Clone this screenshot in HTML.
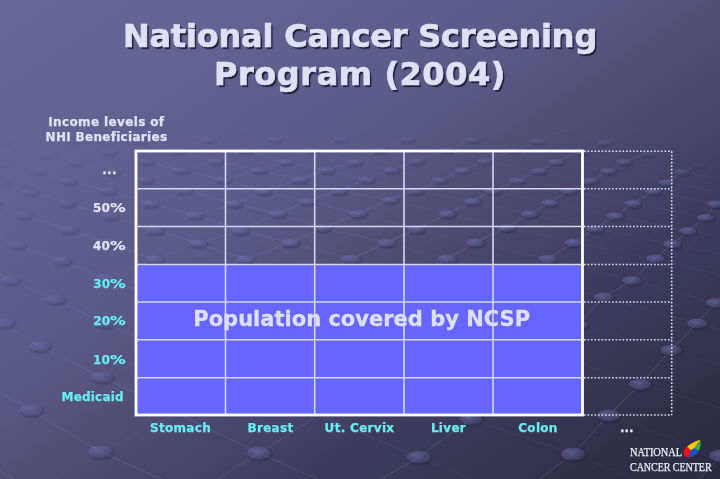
<!DOCTYPE html>
<html>
<head>
<meta charset="utf-8">
<style>
html,body{margin:0;padding:0;}
body{width:720px;height:479px;overflow:hidden;position:relative;
  font-family:"DejaVu Sans","Liberation Sans",sans-serif;font-weight:bold;
  background:#4a4a74;}
#bg{position:absolute;left:0;top:0;width:720px;height:479px;}
.t{position:absolute;white-space:nowrap;line-height:1;}
.title{left:0;width:720px;text-align:center;font-size:32px;color:#e0e0f5;
  -webkit-text-stroke:0.7px #e0e0f5;text-shadow:1.8px 1.8px 0.9px #1e1e36;}
.lab{font-size:12px;color:#e2e2f5;-webkit-text-stroke:0.25px currentColor;}
.cy{color:#68ecf0;}
.col{font-size:12px;color:#68ecf0;text-align:center;width:90px;letter-spacing:0.3px;-webkit-text-stroke:0.25px currentColor;}
.rl{left:0;text-align:right;}
.pc{display:inline-block;transform:scaleX(1.3);transform-origin:0 0;margin-right:3.6px;}
.rl{letter-spacing:0.3px;}
.logo{font-family:"Liberation Serif","DejaVu Serif",serif;font-weight:normal;font-size:13px;color:#f2f2f6;transform:scaleX(0.75);transform-origin:0 0;letter-spacing:-0.1px;-webkit-text-stroke:0.25px #f2f2f6;}
</style>
</head>
<body>
<svg id="bg" width="720" height="479" viewBox="0 0 720 479">
  <defs>
    <linearGradient id="g1" x1="0" y1="0" x2="1" y2="1">
      <stop offset="0" stop-color="#686696"/>
      <stop offset="0.14" stop-color="#666494"/>
      <stop offset="0.26" stop-color="#605e8e"/>
      <stop offset="0.38" stop-color="#5c5a89"/>
      <stop offset="0.5" stop-color="#535078"/>
      <stop offset="0.6" stop-color="#48466c"/>
      <stop offset="0.725" stop-color="#3c3b5c"/>
      <stop offset="0.85" stop-color="#34344f"/>
      <stop offset="0.89" stop-color="#2f2f48"/>
      <stop offset="1" stop-color="#2a2a42"/>
    </linearGradient>
    <radialGradient id="dg" cx="0.4" cy="0.35" r="0.65">
      <stop offset="0" stop-color="#7c7cc4" stop-opacity="0.55"/>
      <stop offset="1" stop-color="#7c7cc4" stop-opacity="0.2"/>
    </radialGradient>
    <filter id="bl" x="-50%" y="-50%" width="200%" height="200%"><feGaussianBlur stdDeviation="1"/></filter>
    <filter id="bl2" x="-50%" y="-50%" width="200%" height="200%"><feGaussianBlur stdDeviation="0.6"/></filter>
    <linearGradient id="fade" x1="0" y1="0" x2="0" y2="1">
      <stop offset="0.24" stop-color="#fff" stop-opacity="0"/>
      <stop offset="0.325" stop-color="#fff" stop-opacity="0.7"/>
      <stop offset="0.42" stop-color="#fff" stop-opacity="1"/>
    </linearGradient>
    <linearGradient id="gB" x1="0" y1="0" x2="1" y2="0">
      <stop offset="0.1" stop-color="#fff" stop-opacity="0.15"/>
      <stop offset="0.45" stop-color="#fff" stop-opacity="1"/>
    </linearGradient>
    <linearGradient id="gC" x1="0" y1="0" x2="1" y2="0">
      <stop offset="0.3" stop-color="#fff" stop-opacity="1"/>
      <stop offset="0.6" stop-color="#fff" stop-opacity="0.3"/>
    </linearGradient>
    <mask id="mB" maskUnits="userSpaceOnUse" x="0" y="0" width="720" height="479"><rect width="720" height="479" fill="url(#gB)"/></mask>
    <mask id="mC" maskUnits="userSpaceOnUse" x="0" y="0" width="720" height="479"><rect width="720" height="479" fill="url(#gC)"/></mask>
    <filter id="mb" x="-20%" y="-20%" width="140%" height="140%"><feGaussianBlur stdDeviation="6"/></filter>
    <linearGradient id="fdg" gradientUnits="userSpaceOnUse" x1="0" y1="120" x2="300" y2="330">
      <stop offset="0" stop-color="#fff" stop-opacity="0.1"/>
      <stop offset="0.2" stop-color="#fff" stop-opacity="0.45"/>
      <stop offset="0.45" stop-color="#fff" stop-opacity="0.8"/>
      <stop offset="0.7" stop-color="#fff" stop-opacity="1"/>
    </linearGradient>
    <mask id="fd" maskUnits="userSpaceOnUse" x="0" y="0" width="720" height="479"><rect width="720" height="479" fill="url(#fdg)"/></mask>
    <mask id="fm" maskUnits="userSpaceOnUse" x="0" y="0" width="720" height="479"><rect width="720" height="479" fill="url(#fade)"/><polygon points="640,90 740,90 740,172 700,168 660,166 640,150" fill="#000" filter="url(#mb)"/></mask>
  </defs>
  <rect width="720" height="479" fill="url(#g1)"/>
  <g mask="url(#fm)"><g mask="url(#fd)">
<g fill="none" stroke="#8888d0" stroke-opacity="0.28" stroke-width="1">
<path mask="url(#mB)" d="M-127.0 105.8 L-154.0 120.6 L-183.3 133.8 M-52.1 104.6 L-79.7 119.3 L-109.1 132.6 L-140.9 144.7 L-175.7 155.8 M20.8 103.4 L-7.3 118.1 L-36.8 131.4 L-68.2 143.5 L-102.2 154.7 L-139.5 165.2 L-180.4 175.3 M91.8 102.5 L63.3 117.1 L33.8 130.3 L2.7 142.4 L-30.4 153.6 L-66.3 164.2 L-105.6 174.4 L-148.7 184.6 L-196.4 194.8 M161.3 101.7 L132.3 116.2 L102.8 129.3 L72.2 141.4 L48.0 155.0 L5.4 163.2 L-32.1 173.6 L-73.0 183.8 L-118.1 194.2 L-167.8 205.1 M229.4 101.2 L200.0 115.5 L170.6 128.5 L140.5 140.5 L109.2 151.7 L76.0 162.3 L38.0 171.0 L1.6 183.0 L-40.7 193.6 L-87.3 204.6 L-138.7 216.4 L-195.6 229.1 M296.4 101.1 L266.7 115.1 L237.4 128.0 L207.8 139.8 L177.4 150.9 L145.6 161.5 L111.8 171.8 L69.0 181.0 L30.0 192.0 L-7.6 204.1 L-55.4 216.0 L-108.2 229.0 L-166.5 243.3 M362.6 101.3 L332.6 115.1 L303.4 127.7 L274.4 139.3 L245.0 150.3 L215.3 160.9 L181.0 170.2 L145.3 179.6 L108.0 190.6 L67.0 203.0 L23.0 215.0 L-21.2 228.8 L-75.1 243.3 L-134.6 259.4 M428.2 101.9 L397.9 115.4 L368.8 127.7 L340.4 139.1 L312.1 149.9 L285.3 161.8 L259.0 170.2 L223.0 179.6 L184.0 190.4 L150.0 203.5 L110.0 216.0 L69.0 229.7 L16.7 245.0 L-38.3 259.5 L-98.7 277.7 L-165.7 298.1 M493.4 103.0 L462.9 116.1 L434.0 128.1 L406.2 139.3 L379.0 149.8 L353.8 162.4 L325.8 170.2 L299.3 179.6 L263.1 191.1 L234.0 203.5 L195.0 215.3 L154.7 230.3 L107.6 243.0 L61.9 260.7 L10.7 280.0 L-57.8 298.6 L-125.5 321.7 M558.5 104.6 L527.7 117.3 L499.1 129.0 L472.0 139.8 L445.9 150.1 L416.0 160.9 L391.0 170.2 L366.2 179.6 L338.9 190.8 L307.0 201.3 L277.6 213.8 L240.0 230.3 L198.0 243.3 L154.7 259.5 L105.5 278.1 L55.2 299.5 L4.0 323.0 L-78.8 348.4 L-154.3 377.5 M623.7 106.7 L592.8 119.0 L564.4 130.3 L538.0 140.8 L513.0 150.8 L484.5 160.9 L462.7 170.2 L439.3 180.2 L415.1 190.7 L389.6 199.8 L357.7 213.8 L322.7 227.8 L290.0 242.7 L245.0 259.5 L208.4 278.3 L159.4 299.3 L104.6 322.9 L39.5 346.4 L-24.6 378.7 L-100.3 411.4 L-184.1 447.6 M689.3 109.5 L658.2 121.3 L630.1 132.1 L604.5 142.2 L580.7 151.8 L556.0 161.8 L538.9 170.8 L517.0 180.5 L491.9 190.8 L472.0 201.3 L447.0 213.8 L416.0 229.3 L386.4 242.7 L350.7 258.9 L312.3 278.4 L269.3 299.6 L221.0 323.4 L166.7 350.0 L102.0 377.0 L31.0 410.0 L-37.4 449.3 L-121.2 489.8 M755.4 112.9 L724.2 124.2 L696.5 134.5 L671.7 144.2 L649.1 153.4 L623.5 161.7 L608.4 170.8 L590.0 180.8 L568.5 190.4 L549.8 202.9 L529.6 213.8 L506.2 227.8 L475.0 242.7 L447.0 258.9 L417.2 278.5 L380.3 299.9 L338.5 323.8 L291.2 350.7 L237.9 380.6 L177.9 413.9 L100.0 451.7 L35.5 491.7 L-48.1 536.6 M822.4 117.0 L791.2 127.7 L763.8 137.5 L739.8 146.7 L718.5 155.5 L699.3 164.2 L682.0 171.8 L666.3 182.5 L652.9 191.2 L632.8 203.5 L615.0 216.0 L595.0 228.6 L573.0 242.7 L548.0 258.9 L523.5 278.8 L492.7 300.2 L457.5 324.3 L417.2 351.3 L371.3 381.4 L319.2 415.0 L259.0 453.0 L193.9 493.4 L119.5 538.7 M890.5 121.9 L859.2 131.9 L832.3 141.2 L809.1 149.8 L789.1 158.2 L771.7 166.4 L756.2 174.9 L742.1 183.8 L728.7 193.3 L715.5 204.0 L705.4 217.6 L687.7 231.0 L672.0 244.3 L655.3 258.7 L631.8 280.5 L603.4 297.0 L578.1 324.8 L544.9 351.9 L506.4 382.2 L470.8 418.8 L418.8 457.0 L354.1 494.9 L289.0 540.6 M902.1 145.6 L879.9 153.7 L861.2 161.5 L845.5 169.3 L832.3 177.3 L820.8 185.8 L810.5 195.0 L800.9 205.2 L791.3 216.6 L781.1 229.6 L769.7 244.2 L756.6 260.9 L741.1 279.8 L715.5 302.7 L697.0 323.4 L671.0 350.0 L640.2 384.3 L608.4 415.4 L572.9 454.0 L516.4 496.3 L460.6 542.3 M910.1 180.3 L901.4 188.3 L894.2 197.2 L888.2 207.0 L882.6 218.2 L876.9 230.9 L870.4 245.3 L862.6 261.8 L852.9 280.6 L840.7 302.0 L825.3 326.1 L806.3 353.3 L782.9 383.9 L754.7 417.9 L720.9 455.8 L681.1 497.7 L634.5 544.0 M904.5 419.0 L879.2 457.0 L848.3 499.1 L811.1 545.5"/>
<path mask="url(#mC)" d="M755.4 112.9 L791.2 127.7 L832.3 141.2 L879.9 153.7 M689.3 109.5 L724.2 124.2 L763.8 137.5 L809.1 149.8 L861.2 161.5 M623.7 106.7 L658.2 121.3 L696.5 134.5 L739.8 146.7 L789.1 158.2 L845.5 169.3 L910.1 180.3 M558.5 104.6 L592.8 119.0 L630.1 132.1 L671.7 144.2 L718.5 155.5 L771.7 166.4 L832.3 177.3 L901.4 188.3 M493.4 103.0 L527.7 117.3 L564.4 130.3 L604.5 142.2 L649.1 153.4 L699.3 164.2 L756.2 174.9 L820.8 185.8 L894.2 197.2 M428.2 101.9 L462.9 116.1 L499.1 129.0 L538.0 140.8 L580.7 151.8 L623.5 161.7 L682.0 171.8 L742.1 183.8 L810.5 195.0 L888.2 207.0 M362.6 101.3 L397.9 115.4 L434.0 128.1 L472.0 139.8 L513.0 150.8 L556.0 161.8 L608.4 170.8 L666.3 182.5 L728.7 193.3 L800.9 205.2 L882.6 218.2 M296.4 101.1 L332.6 115.1 L368.8 127.7 L406.2 139.3 L445.9 150.1 L484.5 160.9 L538.9 170.8 L590.0 180.8 L652.9 191.2 L715.5 204.0 L791.3 216.6 L876.9 230.9 M229.4 101.2 L266.7 115.1 L303.4 127.7 L340.4 139.1 L379.0 149.8 L416.0 160.9 L462.7 170.2 L517.0 180.5 L568.5 190.4 L632.8 203.5 L705.4 217.6 L781.1 229.6 L870.4 245.3 M161.3 101.7 L200.0 115.5 L237.4 128.0 L274.4 139.3 L312.1 149.9 L353.8 162.4 L391.0 170.2 L439.3 180.2 L491.9 190.8 L549.8 202.9 L615.0 216.0 L687.7 231.0 L769.7 244.2 L862.6 261.8 M91.8 102.5 L132.3 116.2 L170.6 128.5 L207.8 139.8 L245.0 150.3 L285.3 161.8 L325.8 170.2 L366.2 179.6 L415.1 190.7 L472.0 201.3 L529.6 213.8 L595.0 228.6 L672.0 244.3 L756.6 260.9 L852.9 280.6 M20.8 103.4 L63.3 117.1 L102.8 129.3 L140.5 140.5 L177.4 150.9 L215.3 160.9 L259.0 170.2 L299.3 179.6 L338.9 190.8 L389.6 199.8 L447.0 213.8 L506.2 227.8 L573.0 242.7 L655.3 258.7 L741.1 279.8 L840.7 302.0 M-52.1 104.6 L-7.3 118.1 L33.8 130.3 L72.2 141.4 L109.2 151.7 L145.6 161.5 L181.0 170.2 L223.0 179.6 L263.1 191.1 L307.0 201.3 L357.7 213.8 L416.0 229.3 L475.0 242.7 L548.0 258.9 L631.8 280.5 L715.5 302.7 L825.3 326.1 M-127.0 105.8 L-79.7 119.3 L-36.8 131.4 L2.7 142.4 L48.0 155.0 L76.0 162.3 L111.8 171.8 L145.3 179.6 L184.0 190.4 L234.0 203.5 L277.6 213.8 L322.7 227.8 L386.4 242.7 L447.0 258.9 L523.5 278.8 L603.4 297.0 L697.0 323.4 L806.3 353.3 M-154.0 120.6 L-109.1 132.6 L-68.2 143.5 L-30.4 153.6 L5.4 163.2 L38.0 171.0 L69.0 181.0 L108.0 190.6 L150.0 203.5 L195.0 215.3 L240.0 230.3 L290.0 242.7 L350.7 258.9 L417.2 278.5 L492.7 300.2 L578.1 324.8 L671.0 350.0 L782.9 383.9 L904.5 419.0 M-183.3 133.8 L-140.9 144.7 L-102.2 154.7 L-66.3 164.2 L-32.1 173.6 L1.6 183.0 L30.0 192.0 L67.0 203.0 L110.0 216.0 L154.7 230.3 L198.0 243.3 L245.0 259.5 L312.3 278.4 L380.3 299.9 L457.5 324.3 L544.9 351.9 L640.2 384.3 L754.7 417.9 L879.2 457.0 M-175.7 155.8 L-139.5 165.2 L-105.6 174.4 L-73.0 183.8 L-40.7 193.6 L-7.6 204.1 L23.0 215.0 L69.0 229.7 L107.6 243.0 L154.7 259.5 L208.4 278.3 L269.3 299.6 L338.5 323.8 L417.2 351.3 L506.4 382.2 L608.4 415.4 L720.9 455.8 L848.3 499.1 M-180.4 175.3 L-148.7 184.6 L-118.1 194.2 L-87.3 204.6 L-55.4 216.0 L-21.2 228.8 L16.7 245.0 L61.9 260.7 L105.5 278.1 L159.4 299.3 L221.0 323.4 L291.2 350.7 L371.3 381.4 L470.8 418.8 L572.9 454.0 L681.1 497.7 L811.1 545.5 M-196.4 194.8 L-167.8 205.1 L-138.7 216.4 L-108.2 229.0 L-75.1 243.3 L-38.3 259.5 L10.7 280.0 L55.2 299.5 L104.6 322.9 L166.7 350.0 L237.9 380.6 L319.2 415.0 L418.8 457.0 L516.4 496.3 L634.5 544.0 M-195.6 229.1 L-166.5 243.3 L-134.6 259.4 L-98.7 277.7 L-57.8 298.6 L4.0 323.0 L39.5 346.4 L102.0 377.0 L177.9 413.9 L259.0 453.0 L354.1 494.9 L460.6 542.3 M-165.7 298.1 L-125.5 321.7 L-78.8 348.4 L-24.6 378.7 L31.0 410.0 L100.0 451.7 L193.9 493.4 L289.0 540.6 M-154.3 377.5 L-100.3 411.4 L-37.4 449.3 L35.5 491.7 L119.5 538.7 M-184.1 447.6 L-121.2 489.8 L-48.1 536.6"/>
</g>
<g>
<ellipse cx="4.2" cy="143.9" rx="7.5" ry="2.7" fill="#14142a" fill-opacity="0.3" filter="url(#bl)"/>
<ellipse cx="2.7" cy="142.4" rx="7.5" ry="2.7" fill="url(#dg)" filter="url(#bl2)"/>
<ellipse cx="73.7" cy="142.9" rx="7.5" ry="2.7" fill="#14142a" fill-opacity="0.3" filter="url(#bl)"/>
<ellipse cx="72.2" cy="141.4" rx="7.5" ry="2.7" fill="url(#dg)" filter="url(#bl2)"/>
<ellipse cx="142.0" cy="142.0" rx="7.5" ry="2.7" fill="#14142a" fill-opacity="0.3" filter="url(#bl)"/>
<ellipse cx="140.5" cy="140.5" rx="7.5" ry="2.7" fill="url(#dg)" filter="url(#bl2)"/>
<ellipse cx="209.3" cy="141.3" rx="7.5" ry="2.7" fill="#14142a" fill-opacity="0.3" filter="url(#bl)"/>
<ellipse cx="207.8" cy="139.8" rx="7.5" ry="2.7" fill="url(#dg)" filter="url(#bl2)"/>
<ellipse cx="275.9" cy="140.8" rx="7.5" ry="2.6" fill="#14142a" fill-opacity="0.3" filter="url(#bl)"/>
<ellipse cx="274.4" cy="139.3" rx="7.5" ry="2.6" fill="url(#dg)" filter="url(#bl2)"/>
<ellipse cx="341.9" cy="140.6" rx="7.4" ry="2.6" fill="#14142a" fill-opacity="0.3" filter="url(#bl)"/>
<ellipse cx="340.4" cy="139.1" rx="7.4" ry="2.6" fill="url(#dg)" filter="url(#bl2)"/>
<ellipse cx="407.7" cy="140.8" rx="7.5" ry="2.6" fill="#14142a" fill-opacity="0.3" filter="url(#bl)"/>
<ellipse cx="406.2" cy="139.3" rx="7.5" ry="2.6" fill="url(#dg)" filter="url(#bl2)"/>
<ellipse cx="473.5" cy="141.3" rx="7.5" ry="2.7" fill="#14142a" fill-opacity="0.3" filter="url(#bl)"/>
<ellipse cx="472.0" cy="139.8" rx="7.5" ry="2.7" fill="url(#dg)" filter="url(#bl2)"/>
<ellipse cx="539.5" cy="142.3" rx="7.5" ry="2.7" fill="#14142a" fill-opacity="0.3" filter="url(#bl)"/>
<ellipse cx="538.0" cy="140.8" rx="7.5" ry="2.7" fill="url(#dg)" filter="url(#bl2)"/>
<ellipse cx="606.0" cy="143.7" rx="7.5" ry="2.7" fill="#14142a" fill-opacity="0.3" filter="url(#bl)"/>
<ellipse cx="604.5" cy="142.2" rx="7.5" ry="2.7" fill="url(#dg)" filter="url(#bl2)"/>
<ellipse cx="673.2" cy="145.7" rx="7.5" ry="2.7" fill="#14142a" fill-opacity="0.3" filter="url(#bl)"/>
<ellipse cx="671.7" cy="144.2" rx="7.5" ry="2.7" fill="url(#dg)" filter="url(#bl2)"/>
<ellipse cx="49.5" cy="156.5" rx="7.7" ry="2.8" fill="#14142a" fill-opacity="0.3" filter="url(#bl)"/>
<ellipse cx="48.0" cy="155.0" rx="7.7" ry="2.8" fill="url(#dg)" filter="url(#bl2)"/>
<ellipse cx="110.7" cy="153.2" rx="7.6" ry="2.8" fill="#14142a" fill-opacity="0.3" filter="url(#bl)"/>
<ellipse cx="109.2" cy="151.7" rx="7.6" ry="2.8" fill="url(#dg)" filter="url(#bl2)"/>
<ellipse cx="178.9" cy="152.4" rx="7.6" ry="2.8" fill="#14142a" fill-opacity="0.3" filter="url(#bl)"/>
<ellipse cx="177.4" cy="150.9" rx="7.6" ry="2.8" fill="url(#dg)" filter="url(#bl2)"/>
<ellipse cx="246.5" cy="151.8" rx="7.6" ry="2.8" fill="#14142a" fill-opacity="0.3" filter="url(#bl)"/>
<ellipse cx="245.0" cy="150.3" rx="7.6" ry="2.8" fill="url(#dg)" filter="url(#bl2)"/>
<ellipse cx="313.6" cy="151.4" rx="7.6" ry="2.8" fill="#14142a" fill-opacity="0.3" filter="url(#bl)"/>
<ellipse cx="312.1" cy="149.9" rx="7.6" ry="2.8" fill="url(#dg)" filter="url(#bl2)"/>
<ellipse cx="380.5" cy="151.3" rx="7.6" ry="2.8" fill="#14142a" fill-opacity="0.3" filter="url(#bl)"/>
<ellipse cx="379.0" cy="149.8" rx="7.6" ry="2.8" fill="url(#dg)" filter="url(#bl2)"/>
<ellipse cx="447.4" cy="151.6" rx="7.6" ry="2.8" fill="#14142a" fill-opacity="0.3" filter="url(#bl)"/>
<ellipse cx="445.9" cy="150.1" rx="7.6" ry="2.8" fill="url(#dg)" filter="url(#bl2)"/>
<ellipse cx="514.5" cy="152.3" rx="7.6" ry="2.8" fill="#14142a" fill-opacity="0.3" filter="url(#bl)"/>
<ellipse cx="513.0" cy="150.8" rx="7.6" ry="2.8" fill="url(#dg)" filter="url(#bl2)"/>
<ellipse cx="582.2" cy="153.3" rx="7.6" ry="2.8" fill="#14142a" fill-opacity="0.3" filter="url(#bl)"/>
<ellipse cx="580.7" cy="151.8" rx="7.6" ry="2.8" fill="url(#dg)" filter="url(#bl2)"/>
<ellipse cx="650.6" cy="154.9" rx="7.6" ry="2.8" fill="#14142a" fill-opacity="0.3" filter="url(#bl)"/>
<ellipse cx="649.1" cy="153.4" rx="7.6" ry="2.8" fill="url(#dg)" filter="url(#bl2)"/>
<ellipse cx="720.0" cy="157.0" rx="7.7" ry="2.8" fill="#14142a" fill-opacity="0.3" filter="url(#bl)"/>
<ellipse cx="718.5" cy="155.5" rx="7.7" ry="2.8" fill="url(#dg)" filter="url(#bl2)"/>
<ellipse cx="6.9" cy="164.7" rx="7.8" ry="2.9" fill="#14142a" fill-opacity="0.3" filter="url(#bl)"/>
<ellipse cx="5.4" cy="163.2" rx="7.8" ry="2.9" fill="url(#dg)" filter="url(#bl2)"/>
<ellipse cx="77.5" cy="163.8" rx="7.8" ry="2.9" fill="#14142a" fill-opacity="0.3" filter="url(#bl)"/>
<ellipse cx="76.0" cy="162.3" rx="7.8" ry="2.9" fill="url(#dg)" filter="url(#bl2)"/>
<ellipse cx="147.1" cy="163.0" rx="7.8" ry="2.9" fill="#14142a" fill-opacity="0.3" filter="url(#bl)"/>
<ellipse cx="145.6" cy="161.5" rx="7.8" ry="2.9" fill="url(#dg)" filter="url(#bl2)"/>
<ellipse cx="216.8" cy="162.4" rx="7.8" ry="2.9" fill="#14142a" fill-opacity="0.3" filter="url(#bl)"/>
<ellipse cx="215.3" cy="160.9" rx="7.8" ry="2.9" fill="url(#dg)" filter="url(#bl2)"/>
<ellipse cx="286.8" cy="163.3" rx="7.8" ry="2.9" fill="#14142a" fill-opacity="0.3" filter="url(#bl)"/>
<ellipse cx="285.3" cy="161.8" rx="7.8" ry="2.9" fill="url(#dg)" filter="url(#bl2)"/>
<ellipse cx="355.3" cy="163.9" rx="7.8" ry="2.9" fill="#14142a" fill-opacity="0.3" filter="url(#bl)"/>
<ellipse cx="353.8" cy="162.4" rx="7.8" ry="2.9" fill="url(#dg)" filter="url(#bl2)"/>
<ellipse cx="417.5" cy="162.4" rx="7.8" ry="2.9" fill="#14142a" fill-opacity="0.3" filter="url(#bl)"/>
<ellipse cx="416.0" cy="160.9" rx="7.8" ry="2.9" fill="url(#dg)" filter="url(#bl2)"/>
<ellipse cx="486.0" cy="162.4" rx="7.8" ry="2.9" fill="#14142a" fill-opacity="0.3" filter="url(#bl)"/>
<ellipse cx="484.5" cy="160.9" rx="7.8" ry="2.9" fill="url(#dg)" filter="url(#bl2)"/>
<ellipse cx="557.5" cy="163.3" rx="7.8" ry="2.9" fill="#14142a" fill-opacity="0.3" filter="url(#bl)"/>
<ellipse cx="556.0" cy="161.8" rx="7.8" ry="2.9" fill="url(#dg)" filter="url(#bl2)"/>
<ellipse cx="625.0" cy="163.2" rx="7.8" ry="2.9" fill="#14142a" fill-opacity="0.3" filter="url(#bl)"/>
<ellipse cx="623.5" cy="161.7" rx="7.8" ry="2.9" fill="url(#dg)" filter="url(#bl2)"/>
<ellipse cx="700.8" cy="165.7" rx="7.8" ry="2.9" fill="#14142a" fill-opacity="0.3" filter="url(#bl)"/>
<ellipse cx="699.3" cy="164.2" rx="7.8" ry="2.9" fill="url(#dg)" filter="url(#bl2)"/>
<ellipse cx="39.5" cy="172.5" rx="7.9" ry="3.0" fill="#14142a" fill-opacity="0.3" filter="url(#bl)"/>
<ellipse cx="38.0" cy="171.0" rx="7.9" ry="3.0" fill="url(#dg)" filter="url(#bl2)"/>
<ellipse cx="113.3" cy="173.3" rx="7.9" ry="3.0" fill="#14142a" fill-opacity="0.3" filter="url(#bl)"/>
<ellipse cx="111.8" cy="171.8" rx="7.9" ry="3.0" fill="url(#dg)" filter="url(#bl2)"/>
<ellipse cx="182.5" cy="171.7" rx="7.9" ry="3.0" fill="#14142a" fill-opacity="0.3" filter="url(#bl)"/>
<ellipse cx="181.0" cy="170.2" rx="7.9" ry="3.0" fill="url(#dg)" filter="url(#bl2)"/>
<ellipse cx="260.5" cy="171.7" rx="7.9" ry="3.0" fill="#14142a" fill-opacity="0.3" filter="url(#bl)"/>
<ellipse cx="259.0" cy="170.2" rx="7.9" ry="3.0" fill="url(#dg)" filter="url(#bl2)"/>
<ellipse cx="327.3" cy="171.7" rx="7.9" ry="3.0" fill="#14142a" fill-opacity="0.3" filter="url(#bl)"/>
<ellipse cx="325.8" cy="170.2" rx="7.9" ry="3.0" fill="url(#dg)" filter="url(#bl2)"/>
<ellipse cx="392.5" cy="171.7" rx="7.9" ry="3.0" fill="#14142a" fill-opacity="0.3" filter="url(#bl)"/>
<ellipse cx="391.0" cy="170.2" rx="7.9" ry="3.0" fill="url(#dg)" filter="url(#bl2)"/>
<ellipse cx="464.2" cy="171.7" rx="7.9" ry="3.0" fill="#14142a" fill-opacity="0.3" filter="url(#bl)"/>
<ellipse cx="462.7" cy="170.2" rx="7.9" ry="3.0" fill="url(#dg)" filter="url(#bl2)"/>
<ellipse cx="540.4" cy="172.3" rx="7.9" ry="3.0" fill="#14142a" fill-opacity="0.3" filter="url(#bl)"/>
<ellipse cx="538.9" cy="170.8" rx="7.9" ry="3.0" fill="url(#dg)" filter="url(#bl2)"/>
<ellipse cx="609.9" cy="172.3" rx="7.9" ry="3.0" fill="#14142a" fill-opacity="0.3" filter="url(#bl)"/>
<ellipse cx="608.4" cy="170.8" rx="7.9" ry="3.0" fill="url(#dg)" filter="url(#bl2)"/>
<ellipse cx="683.5" cy="173.3" rx="7.9" ry="3.0" fill="#14142a" fill-opacity="0.3" filter="url(#bl)"/>
<ellipse cx="682.0" cy="171.8" rx="7.9" ry="3.0" fill="url(#dg)" filter="url(#bl2)"/>
<ellipse cx="3.1" cy="184.5" rx="8.1" ry="3.1" fill="#14142a" fill-opacity="0.3" filter="url(#bl)"/>
<ellipse cx="1.6" cy="183.0" rx="8.1" ry="3.1" fill="url(#dg)" filter="url(#bl2)"/>
<ellipse cx="70.5" cy="182.5" rx="8.0" ry="3.1" fill="#14142a" fill-opacity="0.3" filter="url(#bl)"/>
<ellipse cx="69.0" cy="181.0" rx="8.0" ry="3.1" fill="url(#dg)" filter="url(#bl2)"/>
<ellipse cx="146.8" cy="181.1" rx="8.0" ry="3.1" fill="#14142a" fill-opacity="0.3" filter="url(#bl)"/>
<ellipse cx="145.3" cy="179.6" rx="8.0" ry="3.1" fill="url(#dg)" filter="url(#bl2)"/>
<ellipse cx="224.5" cy="181.1" rx="8.0" ry="3.1" fill="#14142a" fill-opacity="0.3" filter="url(#bl)"/>
<ellipse cx="223.0" cy="179.6" rx="8.0" ry="3.1" fill="url(#dg)" filter="url(#bl2)"/>
<ellipse cx="300.8" cy="181.1" rx="8.0" ry="3.1" fill="#14142a" fill-opacity="0.3" filter="url(#bl)"/>
<ellipse cx="299.3" cy="179.6" rx="8.0" ry="3.1" fill="url(#dg)" filter="url(#bl2)"/>
<ellipse cx="367.7" cy="181.1" rx="8.0" ry="3.1" fill="#14142a" fill-opacity="0.3" filter="url(#bl)"/>
<ellipse cx="366.2" cy="179.6" rx="8.0" ry="3.1" fill="url(#dg)" filter="url(#bl2)"/>
<ellipse cx="440.8" cy="181.7" rx="8.0" ry="3.1" fill="#14142a" fill-opacity="0.3" filter="url(#bl)"/>
<ellipse cx="439.3" cy="180.2" rx="8.0" ry="3.1" fill="url(#dg)" filter="url(#bl2)"/>
<ellipse cx="518.5" cy="182.0" rx="8.0" ry="3.1" fill="#14142a" fill-opacity="0.3" filter="url(#bl)"/>
<ellipse cx="517.0" cy="180.5" rx="8.0" ry="3.1" fill="url(#dg)" filter="url(#bl2)"/>
<ellipse cx="591.5" cy="182.3" rx="8.0" ry="3.1" fill="#14142a" fill-opacity="0.3" filter="url(#bl)"/>
<ellipse cx="590.0" cy="180.8" rx="8.0" ry="3.1" fill="url(#dg)" filter="url(#bl2)"/>
<ellipse cx="667.8" cy="184.0" rx="8.1" ry="3.1" fill="#14142a" fill-opacity="0.3" filter="url(#bl)"/>
<ellipse cx="666.3" cy="182.5" rx="8.1" ry="3.1" fill="url(#dg)" filter="url(#bl2)"/>
<ellipse cx="31.5" cy="193.5" rx="8.2" ry="3.2" fill="#14142a" fill-opacity="0.3" filter="url(#bl)"/>
<ellipse cx="30.0" cy="192.0" rx="8.2" ry="3.2" fill="url(#dg)" filter="url(#bl2)"/>
<ellipse cx="109.5" cy="192.1" rx="8.2" ry="3.2" fill="#14142a" fill-opacity="0.3" filter="url(#bl)"/>
<ellipse cx="108.0" cy="190.6" rx="8.2" ry="3.2" fill="url(#dg)" filter="url(#bl2)"/>
<ellipse cx="185.5" cy="191.9" rx="8.2" ry="3.2" fill="#14142a" fill-opacity="0.3" filter="url(#bl)"/>
<ellipse cx="184.0" cy="190.4" rx="8.2" ry="3.2" fill="url(#dg)" filter="url(#bl2)"/>
<ellipse cx="264.6" cy="192.6" rx="8.2" ry="3.2" fill="#14142a" fill-opacity="0.3" filter="url(#bl)"/>
<ellipse cx="263.1" cy="191.1" rx="8.2" ry="3.2" fill="url(#dg)" filter="url(#bl2)"/>
<ellipse cx="340.4" cy="192.3" rx="8.2" ry="3.2" fill="#14142a" fill-opacity="0.3" filter="url(#bl)"/>
<ellipse cx="338.9" cy="190.8" rx="8.2" ry="3.2" fill="url(#dg)" filter="url(#bl2)"/>
<ellipse cx="416.6" cy="192.2" rx="8.2" ry="3.2" fill="#14142a" fill-opacity="0.3" filter="url(#bl)"/>
<ellipse cx="415.1" cy="190.7" rx="8.2" ry="3.2" fill="url(#dg)" filter="url(#bl2)"/>
<ellipse cx="493.4" cy="192.3" rx="8.2" ry="3.2" fill="#14142a" fill-opacity="0.3" filter="url(#bl)"/>
<ellipse cx="491.9" cy="190.8" rx="8.2" ry="3.2" fill="url(#dg)" filter="url(#bl2)"/>
<ellipse cx="570.0" cy="191.9" rx="8.2" ry="3.2" fill="#14142a" fill-opacity="0.3" filter="url(#bl)"/>
<ellipse cx="568.5" cy="190.4" rx="8.2" ry="3.2" fill="url(#dg)" filter="url(#bl2)"/>
<ellipse cx="654.4" cy="192.7" rx="8.2" ry="3.2" fill="#14142a" fill-opacity="0.3" filter="url(#bl)"/>
<ellipse cx="652.9" cy="191.2" rx="8.2" ry="3.2" fill="url(#dg)" filter="url(#bl2)"/>
<ellipse cx="730.2" cy="194.8" rx="8.2" ry="3.3" fill="#14142a" fill-opacity="0.3" filter="url(#bl)"/>
<ellipse cx="728.7" cy="193.3" rx="8.2" ry="3.3" fill="url(#dg)" filter="url(#bl2)"/>
<ellipse cx="-6.1" cy="205.6" rx="8.4" ry="3.4" fill="#14142a" fill-opacity="0.3" filter="url(#bl)"/>
<ellipse cx="-7.6" cy="204.1" rx="8.4" ry="3.4" fill="url(#dg)" filter="url(#bl2)"/>
<ellipse cx="68.5" cy="204.5" rx="8.3" ry="3.4" fill="#14142a" fill-opacity="0.3" filter="url(#bl)"/>
<ellipse cx="67.0" cy="203.0" rx="8.3" ry="3.4" fill="url(#dg)" filter="url(#bl2)"/>
<ellipse cx="151.5" cy="205.0" rx="8.3" ry="3.4" fill="#14142a" fill-opacity="0.3" filter="url(#bl)"/>
<ellipse cx="150.0" cy="203.5" rx="8.3" ry="3.4" fill="url(#dg)" filter="url(#bl2)"/>
<ellipse cx="235.5" cy="205.0" rx="8.3" ry="3.4" fill="#14142a" fill-opacity="0.3" filter="url(#bl)"/>
<ellipse cx="234.0" cy="203.5" rx="8.3" ry="3.4" fill="url(#dg)" filter="url(#bl2)"/>
<ellipse cx="308.5" cy="202.8" rx="8.3" ry="3.3" fill="#14142a" fill-opacity="0.3" filter="url(#bl)"/>
<ellipse cx="307.0" cy="201.3" rx="8.3" ry="3.3" fill="url(#dg)" filter="url(#bl2)"/>
<ellipse cx="391.1" cy="201.3" rx="8.3" ry="3.3" fill="#14142a" fill-opacity="0.3" filter="url(#bl)"/>
<ellipse cx="389.6" cy="199.8" rx="8.3" ry="3.3" fill="url(#dg)" filter="url(#bl2)"/>
<ellipse cx="473.5" cy="202.8" rx="8.3" ry="3.3" fill="#14142a" fill-opacity="0.3" filter="url(#bl)"/>
<ellipse cx="472.0" cy="201.3" rx="8.3" ry="3.3" fill="url(#dg)" filter="url(#bl2)"/>
<ellipse cx="551.3" cy="204.4" rx="8.3" ry="3.4" fill="#14142a" fill-opacity="0.3" filter="url(#bl)"/>
<ellipse cx="549.8" cy="202.9" rx="8.3" ry="3.4" fill="url(#dg)" filter="url(#bl2)"/>
<ellipse cx="634.3" cy="205.0" rx="8.3" ry="3.4" fill="#14142a" fill-opacity="0.3" filter="url(#bl)"/>
<ellipse cx="632.8" cy="203.5" rx="8.3" ry="3.4" fill="url(#dg)" filter="url(#bl2)"/>
<ellipse cx="717.0" cy="205.5" rx="8.4" ry="3.4" fill="#14142a" fill-opacity="0.3" filter="url(#bl)"/>
<ellipse cx="715.5" cy="204.0" rx="8.4" ry="3.4" fill="url(#dg)" filter="url(#bl2)"/>
<ellipse cx="24.5" cy="216.5" rx="8.5" ry="3.5" fill="#14142a" fill-opacity="0.3" filter="url(#bl)"/>
<ellipse cx="23.0" cy="215.0" rx="8.5" ry="3.5" fill="url(#dg)" filter="url(#bl2)"/>
<ellipse cx="111.5" cy="217.5" rx="8.5" ry="3.5" fill="#14142a" fill-opacity="0.3" filter="url(#bl)"/>
<ellipse cx="110.0" cy="216.0" rx="8.5" ry="3.5" fill="url(#dg)" filter="url(#bl2)"/>
<ellipse cx="196.5" cy="216.8" rx="8.5" ry="3.5" fill="#14142a" fill-opacity="0.3" filter="url(#bl)"/>
<ellipse cx="195.0" cy="215.3" rx="8.5" ry="3.5" fill="url(#dg)" filter="url(#bl2)"/>
<ellipse cx="279.1" cy="215.3" rx="8.5" ry="3.5" fill="#14142a" fill-opacity="0.3" filter="url(#bl)"/>
<ellipse cx="277.6" cy="213.8" rx="8.5" ry="3.5" fill="url(#dg)" filter="url(#bl2)"/>
<ellipse cx="359.2" cy="215.3" rx="8.5" ry="3.5" fill="#14142a" fill-opacity="0.3" filter="url(#bl)"/>
<ellipse cx="357.7" cy="213.8" rx="8.5" ry="3.5" fill="url(#dg)" filter="url(#bl2)"/>
<ellipse cx="448.5" cy="215.3" rx="8.5" ry="3.5" fill="#14142a" fill-opacity="0.3" filter="url(#bl)"/>
<ellipse cx="447.0" cy="213.8" rx="8.5" ry="3.5" fill="url(#dg)" filter="url(#bl2)"/>
<ellipse cx="531.1" cy="215.3" rx="8.5" ry="3.5" fill="#14142a" fill-opacity="0.3" filter="url(#bl)"/>
<ellipse cx="529.6" cy="213.8" rx="8.5" ry="3.5" fill="url(#dg)" filter="url(#bl2)"/>
<ellipse cx="616.5" cy="217.5" rx="8.5" ry="3.5" fill="#14142a" fill-opacity="0.3" filter="url(#bl)"/>
<ellipse cx="615.0" cy="216.0" rx="8.5" ry="3.5" fill="url(#dg)" filter="url(#bl2)"/>
<ellipse cx="706.9" cy="219.1" rx="8.5" ry="3.5" fill="#14142a" fill-opacity="0.3" filter="url(#bl)"/>
<ellipse cx="705.4" cy="217.6" rx="8.5" ry="3.5" fill="url(#dg)" filter="url(#bl2)"/>
<ellipse cx="70.5" cy="231.2" rx="8.7" ry="3.7" fill="#14142a" fill-opacity="0.3" filter="url(#bl)"/>
<ellipse cx="69.0" cy="229.7" rx="8.7" ry="3.7" fill="url(#dg)" filter="url(#bl2)"/>
<ellipse cx="156.2" cy="231.8" rx="8.7" ry="3.7" fill="#14142a" fill-opacity="0.3" filter="url(#bl)"/>
<ellipse cx="154.7" cy="230.3" rx="8.7" ry="3.7" fill="url(#dg)" filter="url(#bl2)"/>
<ellipse cx="241.5" cy="231.8" rx="8.7" ry="3.7" fill="#14142a" fill-opacity="0.3" filter="url(#bl)"/>
<ellipse cx="240.0" cy="230.3" rx="8.7" ry="3.7" fill="url(#dg)" filter="url(#bl2)"/>
<ellipse cx="324.2" cy="229.3" rx="8.7" ry="3.6" fill="#14142a" fill-opacity="0.3" filter="url(#bl)"/>
<ellipse cx="322.7" cy="227.8" rx="8.7" ry="3.6" fill="url(#dg)" filter="url(#bl2)"/>
<ellipse cx="417.5" cy="230.8" rx="8.7" ry="3.7" fill="#14142a" fill-opacity="0.3" filter="url(#bl)"/>
<ellipse cx="416.0" cy="229.3" rx="8.7" ry="3.7" fill="url(#dg)" filter="url(#bl2)"/>
<ellipse cx="507.7" cy="229.3" rx="8.7" ry="3.6" fill="#14142a" fill-opacity="0.3" filter="url(#bl)"/>
<ellipse cx="506.2" cy="227.8" rx="8.7" ry="3.6" fill="url(#dg)" filter="url(#bl2)"/>
<ellipse cx="596.5" cy="230.1" rx="8.7" ry="3.7" fill="#14142a" fill-opacity="0.3" filter="url(#bl)"/>
<ellipse cx="595.0" cy="228.6" rx="8.7" ry="3.7" fill="url(#dg)" filter="url(#bl2)"/>
<ellipse cx="689.2" cy="232.5" rx="8.7" ry="3.7" fill="#14142a" fill-opacity="0.3" filter="url(#bl)"/>
<ellipse cx="687.7" cy="231.0" rx="8.7" ry="3.7" fill="url(#dg)" filter="url(#bl2)"/>
<ellipse cx="18.2" cy="246.5" rx="8.9" ry="3.8" fill="#14142a" fill-opacity="0.3" filter="url(#bl)"/>
<ellipse cx="16.7" cy="245.0" rx="8.9" ry="3.8" fill="url(#dg)" filter="url(#bl2)"/>
<ellipse cx="109.1" cy="244.5" rx="8.9" ry="3.8" fill="#14142a" fill-opacity="0.3" filter="url(#bl)"/>
<ellipse cx="107.6" cy="243.0" rx="8.9" ry="3.8" fill="url(#dg)" filter="url(#bl2)"/>
<ellipse cx="199.5" cy="244.8" rx="8.9" ry="3.8" fill="#14142a" fill-opacity="0.3" filter="url(#bl)"/>
<ellipse cx="198.0" cy="243.3" rx="8.9" ry="3.8" fill="url(#dg)" filter="url(#bl2)"/>
<ellipse cx="291.5" cy="244.2" rx="8.9" ry="3.8" fill="#14142a" fill-opacity="0.3" filter="url(#bl)"/>
<ellipse cx="290.0" cy="242.7" rx="8.9" ry="3.8" fill="url(#dg)" filter="url(#bl2)"/>
<ellipse cx="387.9" cy="244.2" rx="8.9" ry="3.8" fill="#14142a" fill-opacity="0.3" filter="url(#bl)"/>
<ellipse cx="386.4" cy="242.7" rx="8.9" ry="3.8" fill="url(#dg)" filter="url(#bl2)"/>
<ellipse cx="476.5" cy="244.2" rx="8.9" ry="3.8" fill="#14142a" fill-opacity="0.3" filter="url(#bl)"/>
<ellipse cx="475.0" cy="242.7" rx="8.9" ry="3.8" fill="url(#dg)" filter="url(#bl2)"/>
<ellipse cx="574.5" cy="244.2" rx="8.9" ry="3.8" fill="#14142a" fill-opacity="0.3" filter="url(#bl)"/>
<ellipse cx="573.0" cy="242.7" rx="8.9" ry="3.8" fill="url(#dg)" filter="url(#bl2)"/>
<ellipse cx="673.5" cy="245.8" rx="8.9" ry="3.8" fill="#14142a" fill-opacity="0.3" filter="url(#bl)"/>
<ellipse cx="672.0" cy="244.3" rx="8.9" ry="3.8" fill="url(#dg)" filter="url(#bl2)"/>
<ellipse cx="63.4" cy="262.2" rx="9.1" ry="4.0" fill="#14142a" fill-opacity="0.3" filter="url(#bl)"/>
<ellipse cx="61.9" cy="260.7" rx="9.1" ry="4.0" fill="url(#dg)" filter="url(#bl2)"/>
<ellipse cx="156.2" cy="261.0" rx="9.1" ry="4.0" fill="#14142a" fill-opacity="0.3" filter="url(#bl)"/>
<ellipse cx="154.7" cy="259.5" rx="9.1" ry="4.0" fill="url(#dg)" filter="url(#bl2)"/>
<ellipse cx="246.5" cy="261.0" rx="9.1" ry="4.0" fill="#14142a" fill-opacity="0.3" filter="url(#bl)"/>
<ellipse cx="245.0" cy="259.5" rx="9.1" ry="4.0" fill="url(#dg)" filter="url(#bl2)"/>
<ellipse cx="352.2" cy="260.4" rx="9.1" ry="4.0" fill="#14142a" fill-opacity="0.3" filter="url(#bl)"/>
<ellipse cx="350.7" cy="258.9" rx="9.1" ry="4.0" fill="url(#dg)" filter="url(#bl2)"/>
<ellipse cx="448.5" cy="260.4" rx="9.1" ry="4.0" fill="#14142a" fill-opacity="0.3" filter="url(#bl)"/>
<ellipse cx="447.0" cy="258.9" rx="9.1" ry="4.0" fill="url(#dg)" filter="url(#bl2)"/>
<ellipse cx="549.5" cy="260.4" rx="9.1" ry="4.0" fill="#14142a" fill-opacity="0.3" filter="url(#bl)"/>
<ellipse cx="548.0" cy="258.9" rx="9.1" ry="4.0" fill="url(#dg)" filter="url(#bl2)"/>
<ellipse cx="656.8" cy="260.2" rx="9.1" ry="4.0" fill="#14142a" fill-opacity="0.3" filter="url(#bl)"/>
<ellipse cx="655.3" cy="258.7" rx="9.1" ry="4.0" fill="url(#dg)" filter="url(#bl2)"/>
<ellipse cx="12.2" cy="281.5" rx="9.4" ry="4.2" fill="#14142a" fill-opacity="0.3" filter="url(#bl)"/>
<ellipse cx="10.7" cy="280.0" rx="9.4" ry="4.2" fill="url(#dg)" filter="url(#bl2)"/>
<ellipse cx="107.0" cy="279.6" rx="9.4" ry="4.2" fill="#14142a" fill-opacity="0.3" filter="url(#bl)"/>
<ellipse cx="105.5" cy="278.1" rx="9.4" ry="4.2" fill="url(#dg)" filter="url(#bl2)"/>
<ellipse cx="209.9" cy="279.8" rx="9.4" ry="4.2" fill="#14142a" fill-opacity="0.3" filter="url(#bl)"/>
<ellipse cx="208.4" cy="278.3" rx="9.4" ry="4.2" fill="url(#dg)" filter="url(#bl2)"/>
<ellipse cx="313.8" cy="279.9" rx="9.4" ry="4.2" fill="#14142a" fill-opacity="0.3" filter="url(#bl)"/>
<ellipse cx="312.3" cy="278.4" rx="9.4" ry="4.2" fill="url(#dg)" filter="url(#bl2)"/>
<ellipse cx="418.7" cy="280.0" rx="9.4" ry="4.2" fill="#14142a" fill-opacity="0.3" filter="url(#bl)"/>
<ellipse cx="417.2" cy="278.5" rx="9.4" ry="4.2" fill="url(#dg)" filter="url(#bl2)"/>
<ellipse cx="525.0" cy="280.3" rx="9.4" ry="4.2" fill="#14142a" fill-opacity="0.3" filter="url(#bl)"/>
<ellipse cx="523.5" cy="278.8" rx="9.4" ry="4.2" fill="url(#dg)" filter="url(#bl2)"/>
<ellipse cx="633.3" cy="282.0" rx="9.4" ry="4.2" fill="#14142a" fill-opacity="0.3" filter="url(#bl)"/>
<ellipse cx="631.8" cy="280.5" rx="9.4" ry="4.2" fill="url(#dg)" filter="url(#bl2)"/>
<ellipse cx="56.7" cy="301.0" rx="9.7" ry="4.5" fill="#14142a" fill-opacity="0.3" filter="url(#bl)"/>
<ellipse cx="55.2" cy="299.5" rx="9.7" ry="4.5" fill="url(#dg)" filter="url(#bl2)"/>
<ellipse cx="160.9" cy="300.8" rx="9.7" ry="4.5" fill="#14142a" fill-opacity="0.3" filter="url(#bl)"/>
<ellipse cx="159.4" cy="299.3" rx="9.7" ry="4.5" fill="url(#dg)" filter="url(#bl2)"/>
<ellipse cx="270.8" cy="301.1" rx="9.7" ry="4.5" fill="#14142a" fill-opacity="0.3" filter="url(#bl)"/>
<ellipse cx="269.3" cy="299.6" rx="9.7" ry="4.5" fill="url(#dg)" filter="url(#bl2)"/>
<ellipse cx="381.8" cy="301.4" rx="9.7" ry="4.5" fill="#14142a" fill-opacity="0.3" filter="url(#bl)"/>
<ellipse cx="380.3" cy="299.9" rx="9.7" ry="4.5" fill="url(#dg)" filter="url(#bl2)"/>
<ellipse cx="494.2" cy="301.7" rx="9.7" ry="4.5" fill="#14142a" fill-opacity="0.3" filter="url(#bl)"/>
<ellipse cx="492.7" cy="300.2" rx="9.7" ry="4.5" fill="url(#dg)" filter="url(#bl2)"/>
<ellipse cx="604.9" cy="298.5" rx="9.7" ry="4.4" fill="#14142a" fill-opacity="0.3" filter="url(#bl)"/>
<ellipse cx="603.4" cy="297.0" rx="9.7" ry="4.4" fill="url(#dg)" filter="url(#bl2)"/>
<ellipse cx="717.0" cy="304.2" rx="9.7" ry="4.5" fill="#14142a" fill-opacity="0.3" filter="url(#bl)"/>
<ellipse cx="715.5" cy="302.7" rx="9.7" ry="4.5" fill="url(#dg)" filter="url(#bl2)"/>
<ellipse cx="5.5" cy="324.5" rx="10.0" ry="4.7" fill="#14142a" fill-opacity="0.3" filter="url(#bl)"/>
<ellipse cx="4.0" cy="323.0" rx="10.0" ry="4.7" fill="url(#dg)" filter="url(#bl2)"/>
<ellipse cx="106.1" cy="324.4" rx="10.0" ry="4.7" fill="#14142a" fill-opacity="0.3" filter="url(#bl)"/>
<ellipse cx="104.6" cy="322.9" rx="10.0" ry="4.7" fill="url(#dg)" filter="url(#bl2)"/>
<ellipse cx="222.5" cy="324.9" rx="10.0" ry="4.7" fill="#14142a" fill-opacity="0.3" filter="url(#bl)"/>
<ellipse cx="221.0" cy="323.4" rx="10.0" ry="4.7" fill="url(#dg)" filter="url(#bl2)"/>
<ellipse cx="340.0" cy="325.3" rx="10.0" ry="4.7" fill="#14142a" fill-opacity="0.3" filter="url(#bl)"/>
<ellipse cx="338.5" cy="323.8" rx="10.0" ry="4.7" fill="url(#dg)" filter="url(#bl2)"/>
<ellipse cx="459.0" cy="325.8" rx="10.0" ry="4.7" fill="#14142a" fill-opacity="0.3" filter="url(#bl)"/>
<ellipse cx="457.5" cy="324.3" rx="10.0" ry="4.7" fill="url(#dg)" filter="url(#bl2)"/>
<ellipse cx="579.6" cy="326.3" rx="10.0" ry="4.7" fill="#14142a" fill-opacity="0.3" filter="url(#bl)"/>
<ellipse cx="578.1" cy="324.8" rx="10.0" ry="4.7" fill="url(#dg)" filter="url(#bl2)"/>
<ellipse cx="698.5" cy="324.9" rx="10.0" ry="4.7" fill="#14142a" fill-opacity="0.3" filter="url(#bl)"/>
<ellipse cx="697.0" cy="323.4" rx="10.0" ry="4.7" fill="url(#dg)" filter="url(#bl2)"/>
<ellipse cx="41.0" cy="347.9" rx="10.3" ry="5.0" fill="#14142a" fill-opacity="0.3" filter="url(#bl)"/>
<ellipse cx="39.5" cy="346.4" rx="10.3" ry="5.0" fill="url(#dg)" filter="url(#bl2)"/>
<ellipse cx="168.2" cy="351.5" rx="10.4" ry="5.0" fill="#14142a" fill-opacity="0.3" filter="url(#bl)"/>
<ellipse cx="166.7" cy="350.0" rx="10.4" ry="5.0" fill="url(#dg)" filter="url(#bl2)"/>
<ellipse cx="292.7" cy="352.2" rx="10.4" ry="5.0" fill="#14142a" fill-opacity="0.3" filter="url(#bl)"/>
<ellipse cx="291.2" cy="350.7" rx="10.4" ry="5.0" fill="url(#dg)" filter="url(#bl2)"/>
<ellipse cx="418.7" cy="352.8" rx="10.4" ry="5.0" fill="#14142a" fill-opacity="0.3" filter="url(#bl)"/>
<ellipse cx="417.2" cy="351.3" rx="10.4" ry="5.0" fill="url(#dg)" filter="url(#bl2)"/>
<ellipse cx="546.4" cy="353.4" rx="10.4" ry="5.1" fill="#14142a" fill-opacity="0.3" filter="url(#bl)"/>
<ellipse cx="544.9" cy="351.9" rx="10.4" ry="5.1" fill="url(#dg)" filter="url(#bl2)"/>
<ellipse cx="672.5" cy="351.5" rx="10.4" ry="5.0" fill="#14142a" fill-opacity="0.3" filter="url(#bl)"/>
<ellipse cx="671.0" cy="350.0" rx="10.4" ry="5.0" fill="url(#dg)" filter="url(#bl2)"/>
<ellipse cx="103.5" cy="378.5" rx="10.8" ry="5.3" fill="#14142a" fill-opacity="0.3" filter="url(#bl)"/>
<ellipse cx="102.0" cy="377.0" rx="10.8" ry="5.3" fill="url(#dg)" filter="url(#bl2)"/>
<ellipse cx="641.7" cy="385.8" rx="10.9" ry="5.4" fill="#14142a" fill-opacity="0.3" filter="url(#bl)"/>
<ellipse cx="640.2" cy="384.3" rx="10.9" ry="5.4" fill="url(#dg)" filter="url(#bl2)"/>
<ellipse cx="32.5" cy="411.5" rx="11.2" ry="5.7" fill="#14142a" fill-opacity="0.3" filter="url(#bl)"/>
<ellipse cx="31.0" cy="410.0" rx="11.2" ry="5.7" fill="url(#dg)" filter="url(#bl2)"/>
<ellipse cx="472.3" cy="420.2" rx="11.4" ry="5.8" fill="#14142a" fill-opacity="0.3" filter="url(#bl)"/>
<ellipse cx="470.8" cy="418.8" rx="11.4" ry="5.8" fill="url(#dg)" filter="url(#bl2)"/>
<ellipse cx="609.9" cy="416.9" rx="11.3" ry="5.8" fill="#14142a" fill-opacity="0.3" filter="url(#bl)"/>
<ellipse cx="608.4" cy="415.4" rx="11.3" ry="5.8" fill="url(#dg)" filter="url(#bl2)"/>
<ellipse cx="101.5" cy="453.2" rx="11.8" ry="6.2" fill="#14142a" fill-opacity="0.3" filter="url(#bl)"/>
<ellipse cx="100.0" cy="451.7" rx="11.8" ry="6.2" fill="url(#dg)" filter="url(#bl2)"/>
<ellipse cx="260.5" cy="454.5" rx="11.8" ry="6.2" fill="#14142a" fill-opacity="0.3" filter="url(#bl)"/>
<ellipse cx="259.0" cy="453.0" rx="11.8" ry="6.2" fill="url(#dg)" filter="url(#bl2)"/>
<ellipse cx="420.2" cy="458.5" rx="11.9" ry="6.2" fill="#14142a" fill-opacity="0.3" filter="url(#bl)"/>
<ellipse cx="418.8" cy="457.0" rx="11.9" ry="6.2" fill="url(#dg)" filter="url(#bl2)"/>
<ellipse cx="574.4" cy="455.5" rx="11.9" ry="6.2" fill="#14142a" fill-opacity="0.3" filter="url(#bl)"/>
<ellipse cx="572.9" cy="454.0" rx="11.9" ry="6.2" fill="url(#dg)" filter="url(#bl2)"/>
<ellipse cx="722.4" cy="457.3" rx="11.9" ry="6.2" fill="#14142a" fill-opacity="0.3" filter="url(#bl)"/>
<ellipse cx="720.9" cy="455.8" rx="11.9" ry="6.2" fill="url(#dg)" filter="url(#bl2)"/>
<ellipse cx="37.0" cy="493.2" rx="12.4" ry="6.6" fill="#14142a" fill-opacity="0.3" filter="url(#bl)"/>
<ellipse cx="35.5" cy="491.7" rx="12.4" ry="6.6" fill="url(#dg)" filter="url(#bl2)"/>
</g>
  </g></g>
  <!-- blue covered area -->
  <rect x="136" y="264.5" width="446" height="150" fill="#6666fe"/>
  <!-- inner grid lines -->
  <g stroke="#d6d6f2" stroke-width="1.6" fill="none">
    <line x1="136" y1="188.8" x2="582" y2="188.8"/>
    <line x1="136" y1="226.5" x2="582" y2="226.5"/>
    <line x1="136" y1="264.5" x2="582" y2="264.5"/>
    <line x1="136" y1="302" x2="582" y2="302"/>
    <line x1="136" y1="339.8" x2="582" y2="339.8"/>
    <line x1="136" y1="377.7" x2="582" y2="377.7"/>
    <line x1="225.5" y1="151" x2="225.5" y2="415"/>
    <line x1="314.7" y1="151" x2="314.7" y2="415"/>
    <line x1="404" y1="151" x2="404" y2="415"/>
    <line x1="493" y1="151" x2="493" y2="415"/>
  </g>
  <!-- dotted extension -->
  <g stroke="#d8d8ee" stroke-width="1.6" stroke-dasharray="1.7 1.8" fill="none">
    <line x1="584" y1="151.2" x2="672" y2="151.2"/>
    <line x1="584" y1="188.8" x2="672" y2="188.8"/>
    <line x1="584" y1="226.5" x2="672" y2="226.5"/>
    <line x1="584" y1="264.5" x2="672" y2="264.5"/>
    <line x1="584" y1="302" x2="672" y2="302"/>
    <line x1="584" y1="339.8" x2="672" y2="339.8"/>
    <line x1="584" y1="377.7" x2="672" y2="377.7"/>
    <line x1="584" y1="415" x2="672" y2="415"/>
    <line x1="671.7" y1="151.2" x2="671.7" y2="415"/>
  </g>
  <!-- outer border -->
  <rect x="136" y="151" width="446.5" height="264" fill="none" stroke="#ffffff" stroke-width="2.8"/>
</svg>

<div class="t title" style="top:19.5px;letter-spacing:-0.2px;">National Cancer Screening</div>
<div class="t title" style="top:58.2px;letter-spacing:0.55px;">Program (2004)</div>

<div class="t lab" style="left:46.3px;top:115px;width:120px;text-align:center;line-height:14.5px;letter-spacing:0.37px;">Income levels of</div>
<div class="t lab" style="left:45.6px;top:129.5px;width:120px;text-align:center;line-height:14.5px;letter-spacing:0.3px;">NHI Beneficiaries</div>

<div class="t lab rl" style="width:116.8px;top:164px;">...</div>
<div class="t lab rl" style="width:126.2px;top:201.8px;">50<span class="pc">%</span></div>
<div class="t lab rl" style="width:126.2px;top:239.8px;">40<span class="pc">%</span></div>
<div class="t lab rl cy" style="width:126.4px;top:277.5px;">30<span class="pc">%</span></div>
<div class="t lab rl cy" style="width:126.4px;top:314.8px;">20<span class="pc">%</span></div>
<div class="t lab rl cy" style="width:126.2px;top:353.5px;">10<span class="pc">%</span></div>
<div class="t lab rl cy" style="width:123.8px;top:390.5px;letter-spacing:0.2px;">Medicaid</div>

<div class="t" style="left:138.7px;top:309px;width:446px;text-align:center;font-size:21px;color:#dedef6;-webkit-text-stroke:0.35px #dedef6;">Population covered by NCSP</div>

<div class="t col" style="left:135.5px;top:422px;">Stomach</div>
<div class="t col" style="left:225.5px;top:422px;">Breast</div>
<div class="t col" style="left:314.5px;top:422px;">Ut. Cervix</div>
<div class="t col" style="left:403.5px;top:422px;">Liver</div>
<div class="t col" style="left:493px;top:422px;">Colon</div>
<div class="t lab" style="left:620px;top:421.5px;">...</div>

<svg style="position:absolute;left:0;top:0" width="720" height="479" viewBox="0 0 720 479">
  <defs>
    <clipPath id="leaf"><path d="M683.6 452 C683.6 448.3 690 443 700.2 439.8 C702 446.5 698.8 455 690 457.3 C686 458.4 683.6 455.6 683.6 452 Z"/></clipPath>
  </defs>
  <g clip-path="url(#leaf)">
    <polygon points="682,444 687,446.2 690.5,450.2 688.5,460 682,460" fill="#ec1018"/>
    <polygon points="687,446.2 682,444 690,434 702,436 700.2,440 694.6,448.2 690.5,450.2" fill="#f6c514"/>
    <polygon points="700.2,440 702,436 704,455 694.6,448.2" fill="#3cae3c"/>
    <polygon points="690.5,450.2 694.6,448.2 704,455 704,462 688.5,460" fill="#1e50c8"/>
  </g>
</svg>
<div class="t logo" style="left:630.4px;top:445.2px;transform:scaleX(0.8);">NATIONAL</div>
<div class="t logo" style="left:630.4px;top:459.6px;transform:scaleX(0.775);">CANCER CENTER</div>
</body>
</html>
